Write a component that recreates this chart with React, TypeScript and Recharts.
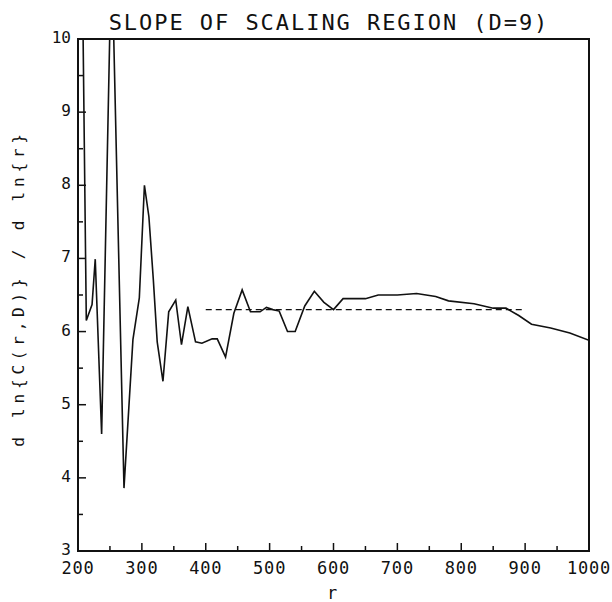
import { Line, LineChart, XAxis, YAxis } from 'recharts';

const rValues = [
  200, 213, 222, 227, 237, 252.6, 272, 286, 296, 304, 311, 318, 324, 333, 342,
  353, 362, 372, 384, 394, 410, 418, 431, 444, 457, 470, 485, 495, 505, 515,
  528, 540, 555, 570, 585, 600, 615, 630, 650, 670, 700, 730, 760, 780, 820,
  850, 870, 890, 910, 940, 970, 1000,
];
const slopeValues = [
  16.2, 6.15, 6.37, 6.99, 4.6, 11.3, 3.86, 5.89, 6.46, 8.0, 7.57, 6.7, 5.86,
  5.32, 6.27, 6.43, 5.82, 6.34, 5.86, 5.84, 5.9, 5.9, 5.65, 6.25, 6.57, 6.27,
  6.27, 6.33, 6.3, 6.28, 6.0, 6.0, 6.35, 6.55, 6.4, 6.3, 6.45, 6.45, 6.45, 6.5,
  6.5, 6.52, 6.48, 6.42, 6.38, 6.32, 6.32, 6.22, 6.1, 6.05, 5.98, 5.88,
];
const fitR = [400, 900];
const fitSlope = [6.3, 6.3];

const xTicks = [200, 250, 300, 350, 400, 450, 500, 550, 600, 650, 700, 750, 800, 850, 900, 950, 1000];
const yTicks = [3, 3.5, 4, 4.5, 5, 5.5, 6, 6.5, 7, 7.5, 8, 8.5, 9, 9.5, 10];

const slopeData = rValues.map((r, i) => ({ r, slope: slopeValues[i] }));
const fitData = fitR.map((r, i) => ({ r, slope: fitSlope[i] }));

const FONT = '"DejaVu Sans Mono", monospace';
const INK = '#111';

// plot box: left 78, right 589, top 39, bottom 551
function BottomTick({ x, y, payload }: any) {
  const major = payload.value % 100 === 0;
  return (
    <g>
      <line x1={x} x2={x} y1={y} y2={y - (major ? 8 : 5)} stroke={INK} strokeWidth={1.5} />
      {major && (
        <text x={x} y={y + 23} textAnchor="middle" fontFamily={FONT} fontSize={17} letterSpacing={0.8} fill={INK}>
          {payload.value}
        </text>
      )}
    </g>
  );
}

function TopTick({ x, y, payload }: any) {
  const major = payload.value % 100 === 0;
  return <line x1={x} x2={x} y1={y} y2={y + (major ? 8 : 5)} stroke={INK} strokeWidth={1.5} />;
}

function LeftTick({ x, y, payload }: any) {
  const major = Number.isInteger(payload.value);
  return (
    <g>
      <line x1={x} x2={x + (major ? 8 : 5)} y1={y} y2={y} stroke={INK} strokeWidth={1.5} />
      {major && (
        <text x={x - 7} y={y + 4} textAnchor="end" fontFamily={FONT} fontSize={16} fill={INK}>
          {payload.value}
        </text>
      )}
    </g>
  );
}

function RightTick({ x, y, payload }: any) {
  const major = Number.isInteger(payload.value);
  return <line x1={x} x2={x - (major ? 8 : 5)} y1={y} y2={y} stroke={INK} strokeWidth={1.5} />;
}

export default function App() {
  return (
    <div style={{ position: 'absolute', left: 0, top: 0, width: 612, height: 602, background: '#fff' }}>
      <div
        style={{
          position: 'absolute',
          left: 0,
          width: 658,
          top: 11,
          textAlign: 'center',
          fontFamily: FONT,
          fontSize: 22,
          letterSpacing: 1.95,
          color: INK,
          lineHeight: '24px',
        }}
      >
        SLOPE OF SCALING REGION (D=9)
      </div>
      <div
        style={{
          position: 'absolute',
          left: 18,
          top: 288,
          transform: 'translate(-50%, -50%) rotate(-90deg)',
          whiteSpace: 'nowrap',
          fontFamily: FONT,
          fontSize: 16,
          letterSpacing: 4.8,
          color: INK,
        }}
      >
        d ln{'{'}C(r,D){'}'} / d ln{'{'}r{'}'}
      </div>
      <div
        style={{
          position: 'absolute',
          left: 327,
          top: 583,
          fontFamily: FONT,
          fontSize: 17,
          color: INK,
        }}
      >
        r
      </div>
      <LineChart width={612} height={602} data={slopeData} margin={{ top: 39, right: 23, bottom: 0, left: 0 }}>
        <XAxis
          dataKey="r"
          type="number"
          domain={[200, 1000]}
          ticks={xTicks}
          interval={0}
          height={51}
          tickSize={0}
          tickMargin={0}
          tickLine={false}
          axisLine={false}
          tick={<BottomTick />}
          allowDataOverflow
        />
        <XAxis
          xAxisId="top"
          orientation="top"
          dataKey="r"
          type="number"
          domain={[200, 1000]}
          ticks={xTicks}
          interval={0}
          height={0}
          tickSize={0}
          tickMargin={0}
          tickLine={false}
          axisLine={false}
          tick={<TopTick />}
        />
        <YAxis
          type="number"
          domain={[3, 10]}
          ticks={yTicks}
          interval={0}
          width={78}
          tickSize={0}
          tickMargin={0}
          tickLine={false}
          axisLine={false}
          tick={<LeftTick />}
          allowDataOverflow
        />
        <YAxis
          yAxisId="right"
          orientation="right"
          type="number"
          domain={[3, 10]}
          ticks={yTicks}
          interval={0}
          width={0}
          tickSize={0}
          tickMargin={0}
          tickLine={false}
          axisLine={false}
          tick={<RightTick />}
        />
        <Line
          data={fitData}
          dataKey="slope"
          type="linear"
          stroke={INK}
          strokeWidth={1.4}
          strokeDasharray="6 4"
          dot={false}
          isAnimationActive={false}
        />
        <Line
          dataKey="slope"
          type="linear"
          stroke={INK}
          strokeWidth={1.6}
          dot={false}
          isAnimationActive={false}
        />
      </LineChart>
      <svg
        width={612}
        height={602}
        style={{ position: 'absolute', left: 0, top: 0, pointerEvents: 'none' }}
      >
        <rect x={78} y={39} width={511} height={512} fill="none" stroke={INK} strokeWidth={2} />
      </svg>
    </div>
  );
}
